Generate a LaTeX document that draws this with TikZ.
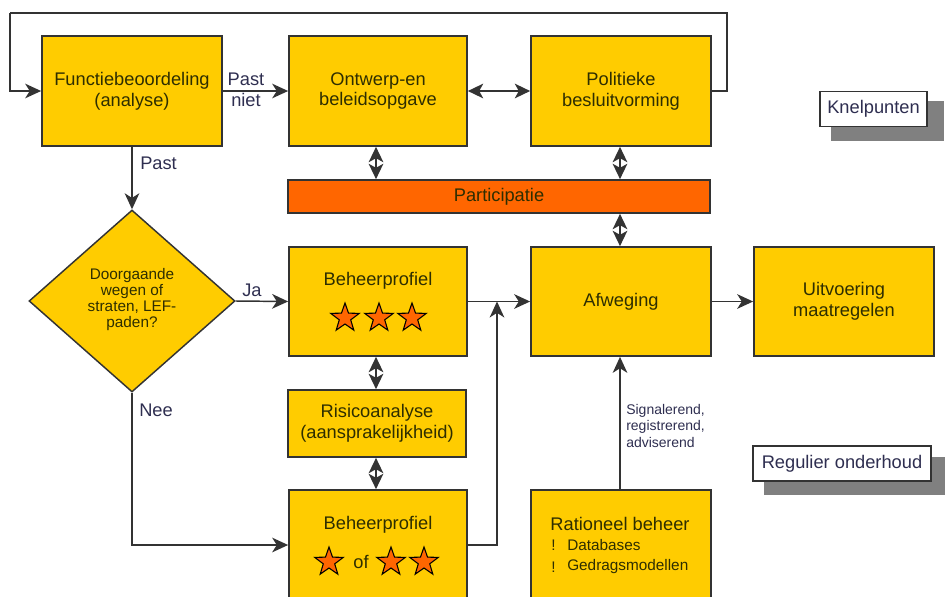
\documentclass[tikz,border=0pt]{standalone}
\usepackage{fontspec}
\setmainfont{Liberation Sans}
\usetikzlibrary{arrows.meta,shapes.geometric,calc}
\pgfdeclarelayer{background}
\pgfsetlayers{background,main}
\definecolor{boxfill}{HTML}{FFCC00}
\definecolor{partfill}{HTML}{FF6600}
\definecolor{linec}{HTML}{333333}
\definecolor{boxtext}{HTML}{2E2E00}
\definecolor{labtext}{HTML}{2E2E50}
\definecolor{shadowc}{HTML}{808080}
\newcommand{\boxfnt}{\fontsize{13.7}{15.5}\selectfont}
\newcommand{\smallfnt}{\fontsize{10.5}{12.4}\selectfont}
\newcommand{\diafnt}{\fontsize{11.5}{12}\selectfont}
\newcommand{\bulfnt}{\fontsize{11.5}{13}\selectfont}
\begin{document}
\begin{tikzpicture}[x=0.75pt,y=-0.75pt,
  box/.style 2 args={draw=linec, fill=boxfill, line width=1.3pt,
    minimum width=#1*0.75pt, minimum height=#2*0.75pt, inner sep=0pt,
    align=center, text=boxtext, font=\boxfnt},
  txt/.style={inner sep=0pt, align=center, text=boxtext, font=\boxfnt},
  lab/.style={inner sep=0pt, align=center, text=labtext, font=\boxfnt},
  conn/.style={draw=linec, line width=1.1pt, -{Stealth[length=12pt,width=11pt,inset=3.5pt]}},
  dbl/.style={draw=linec, line width=1.1pt, {Stealth[length=11.5pt,width=11pt,inset=3pt]}-{Stealth[length=11.5pt,width=11pt,inset=3pt]}},
  plain/.style={draw=linec, line width=1.1pt},
  starry/.style={star, star points=5, star point ratio=2.5, minimum size=30*0.75pt,
    inner sep=0pt, fill=partfill, draw=black, line width=0.8pt},
  note/.style={draw=linec, fill=white, line width=1.1pt, inner sep=0pt,
    minimum width=#1*0.75pt, minimum height=35*0.75pt, text=labtext, font=\boxfnt},
]
\useasboundingbox (0,0) rectangle (948,596);
\clip (0,0) rectangle (948,596);

% boxes
\node[box={180}{110}] (fb) at (132,91) {Functiebeoordeling\\(analyse)};
\node[box={178}{110}] (ow) at (378,91) {Ontwerp-en\\beleidsopgave};
\node[box={180}{110}] (pb) at (621,91) {Politieke\\besluitvorming};
\node[box={422}{33}, fill=partfill] (part) at (499,196.5) {Participatie};
\node[box={178}{109}] (bp1) at (378,301.5) {};
\node[txt] (bp1t) at (378,281) {Beheerprofiel};
\node[starry] (s1) at (345,318) {};
\node[starry] (s2) at (379,318) {};
\node[starry] (s3) at (412,318) {};
\node[box={180}{109}] (af) at (621,301.5) {Afweging};
\node[box={180}{109}] (uit) at (844,301.5) {Uitvoering\\maatregelen};
\node[box={178}{67}] (risk) at (377,423.5) {Risicoanalyse\\(aansprakelijkheid)};
\node[box={178}{110}] (bp2) at (378,545) {};
\node[txt] (bp2t) at (378,525) {Beheerprofiel};
\node[starry] (s4) at (329,562) {};
\node[txt] (oft) at (361,562) {of};
\node[starry] (s5) at (391,562) {};
\node[starry] (s6) at (424,562) {};
\node[box={180}{110}] (rat) at (621,545) {};
\node[txt] (ratt) at (620,524) {Rationeel beheer};
\node[txt, font=\bulfnt, anchor=west] (b1) at (551,545) {!};
\node[txt, font=\bulfnt, anchor=west] (b1t) at (567,545) {Databases};
\node[txt, font=\bulfnt, anchor=west] (b2) at (551,567) {!};
\node[txt, font=\bulfnt, anchor=west] (b2t) at (567,567) {Gedragsmodellen};

% diamond
\node[diamond, draw=linec, fill=boxfill, line width=1.1pt, inner sep=0pt,
  minimum width=206*0.75pt, minimum height=182*0.75pt] (dia) at (132,301) {};
\node[txt, font=\diafnt] (diat) at (132,300) {Doorgaande\\wegen of\\straten, LEF-\\paden?};

% side notes with shadows
\node[note=107] (kn) at (873.5,109) {Knelpunten};
\node[note=178] (ro) at (842,463.5) {Regulier onderhoud};
\begin{pgfonlayer}{background}
\fill[shadowc] ([shift={(12,10)}]kn.north west) rectangle ([shift={(16,14)}]kn.south east);
\fill[shadowc] ([shift={(12,12)}]ro.north west) rectangle ([shift={(13,13)}]ro.south east);
\end{pgfonlayer}

% loop
\coordinate (lt) at (10,13);
\coordinate (rt) at (727,13);
\draw[plain] (pb.east) -| (rt) -- (lt);
\draw[conn] (lt) |- (fb.west);

% connectors
\draw[conn] (fb.east) -- (ow.west);
\node[lab] (pastniet) at (246,90) {Past\\niet};
\draw[dbl] (ow.east) -- (pb.west);
\draw[dbl] (ow.south -| 376,0) -- (part.north -| 376,0);
\draw[dbl] (pb.south -| 620,0) -- (part.north -| 620,0);
\draw[dbl] (part.south -| 620,0) -- (af.north -| 620,0);
\draw[conn] (fb.south) -- (dia.north);
\node[lab, anchor=west] (pastl) at (140,163) {Past};
\draw[conn] (dia.east) -- (bp1.west);
\node[lab] (jal) at (252,290) {Ja};
\draw[conn] (dia.south) |- (bp2.west);
\node[lab, anchor=west] (neel) at (139,410) {Nee};
\draw[conn] (bp1.east) -- (af.west);
\coordinate (join) at (497,301.5);
\draw[conn] (bp2.east) -| (join);
\draw[dbl] (bp1.south -| 376,0) -- (risk.north -| 376,0);
\draw[dbl] (risk.south -| 376,0) -- (bp2.north -| 376,0);
\draw[conn] (rat.north -| 620,0) -- (af.south -| 620,0);
\node[lab, font=\smallfnt, align=left, anchor=north west] (sig) at (626,404)
  {Signalerend,\\registrerend,\\adviserend};
\draw[conn] (af.east) -- (uit.west);
\end{tikzpicture}
\end{document}
